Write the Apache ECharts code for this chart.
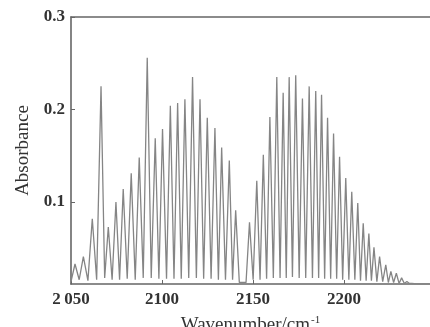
<!DOCTYPE html>
<html>
<head>
<meta charset="utf-8">
<script src="https://cdn.jsdelivr.net/npm/echarts@6/dist/echarts.min.js"></script>
<style>
html,body{margin:0;padding:0;background:#fff;}
#c{width:430px;height:327px;}
</style>
</head>
<body>
<div id="c"></div>
<script>
// Peak positions (cm^-1) and heights (absorbance)
var peakX = [2052.2,2056.8,2061.7,2066.5,2070.5,2074.7,2078.7,2083.1,2087.5,2091.9,2096.3,2100.3,2104.6,2108.6,2112.6,2116.8,2120.9,2124.9,2129.1,2132.8,2137.0,2140.5,
             2148.1,2152.1,2155.7,2159.3,2163.1,2166.6,2169.9,2173.5,2177.2,2180.9,2184.5,2187.7,2191.0,2194.3,2197.6,2201.0,2204.3,2207.6,2210.6,2213.7,2216.5,2219.6,2223.0,2225.8,2228.8,2231.7,2234.6,2237.4];
var peakY = [0.033,0.041,0.082,0.225,0.073,0.100,0.114,0.131,0.148,0.256,0.169,0.179,0.204,0.207,0.211,0.235,0.211,0.191,0.180,0.159,0.145,0.091,
             0.078,0.123,0.151,0.192,0.235,0.218,0.235,0.237,0.212,0.225,0.220,0.216,0.191,0.174,0.149,0.126,0.111,0.099,0.077,0.066,0.051,0.041,0.032,0.025,0.023,0.018,0.014,0.012];
// Valley (baseline) points between the lines
var valleyX = [2050.0,2054.5,2059.3,2064.1,2068.5,2072.6,2076.7,2080.9,2085.3,2089.7,2094.1,2098.3,2102.5,2106.6,2110.6,2114.7,2118.9,2122.9,2127.0,2131.0,2134.9,2138.8,2142.5,2146.2,
               2150.1,2153.9,2157.5,2161.2,2164.9,2168.3,2171.7,2175.4,2179.0,2182.7,2186.1,2189.4,2192.7,2196.0,2199.3,2202.7,2206.0,2209.1,2212.2,2215.1,2218.1,2221.3,2224.4,2227.3,2230.3,2233.2,2236.0,2240.0,2247.0];
var valleyY = [0.014,0.016,0.015,0.016,0.018,0.016,0.016,0.017,0.016,0.018,0.018,0.017,0.017,0.017,0.017,0.018,0.018,0.017,0.017,0.016,0.016,0.016,0.013,0.013,
               0.016,0.016,0.017,0.018,0.018,0.018,0.019,0.018,0.018,0.018,0.018,0.017,0.017,0.017,0.016,0.016,0.016,0.015,0.015,0.015,0.014,0.014,0.013,0.013,0.012,0.012,0.012,0.0115,0.0115];
var xTickValues = [2050,2100,2150,2200];
var xTickLabels = ['2\u2009050','2100','2150','2200'];
var yTickValues = [0.1,0.2,0.3];
var yTickLabels = ['0.1','0.2','0.3'];

var pts = [];
for (var i = 0; i < peakX.length; i++) pts.push([peakX[i], peakY[i]]);
for (var j = 0; j < valleyX.length; j++) pts.push([valleyX[j], valleyY[j]]);
pts.sort(function(a,b){return a[0]-b[0];});

var font = 'Liberation Serif';
var chart = echarts.init(document.getElementById('c'), null, {renderer:'canvas'});
chart.setOption({
  animation:false,
  backgroundColor:'#fff',
  grid:{left:71, top:17, right:0, bottom:43, containLabel:false, outerBoundsMode:'none'},
  xAxis:[{
    type:'value', min:2050, max:2247.3, position:'bottom',
    name:'Wavenumber/cm{sup|-1}', nameLocation:'middle', nameGap:31,
    nameTextStyle:{fontFamily:font, fontSize:19, color:'#333',
      rich:{sup:{fontFamily:font, fontSize:11, color:'#333', verticalAlign:'top', padding:[0,0,9,1]}}},
    axisLine:{show:true, lineStyle:{color:'#666', width:1.6}},
    axisTick:{show:true, inside:true, length:4, customValues:xTickValues, lineStyle:{color:'#666'}},
    axisLabel:{customValues:xTickValues, margin:7, fontFamily:font, fontSize:17, color:'#333', fontWeight:'bold',
      formatter:function(v){var k=xTickValues.indexOf(v);return k>=0?xTickLabels[k]:'';}},
    splitLine:{show:false}
  },{
    type:'value', min:2050, max:2247.3, position:'top',
    axisLine:{show:true, onZero:false, lineStyle:{color:'#666', width:1.6}},
    axisTick:{show:false}, axisLabel:{show:false}, splitLine:{show:false}
  }],
  yAxis:{
    type:'value', min:0.0114, max:0.3,
    name:'Absorbance', nameLocation:'middle', nameGap:34,
    nameTextStyle:{fontFamily:font, fontSize:19, color:'#333'},
    axisLine:{show:true, lineStyle:{color:'#666', width:1.6}},
    axisTick:{show:true, inside:true, length:4, customValues:yTickValues, lineStyle:{color:'#666'}},
    axisLabel:{customValues:yTickValues, margin:6, fontFamily:font, fontSize:17, color:'#333', fontWeight:'bold',
      formatter:function(v){var k=yTickValues.indexOf(v);return k>=0?yTickLabels[k]:'';}},
    splitLine:{show:false}
  },
  series:[{
    type:'line', data:pts, showSymbol:false, symbol:'none',
    lineStyle:{color:'#858585', width:1.3}, z:1
  }]
});
</script>
</body>
</html>
